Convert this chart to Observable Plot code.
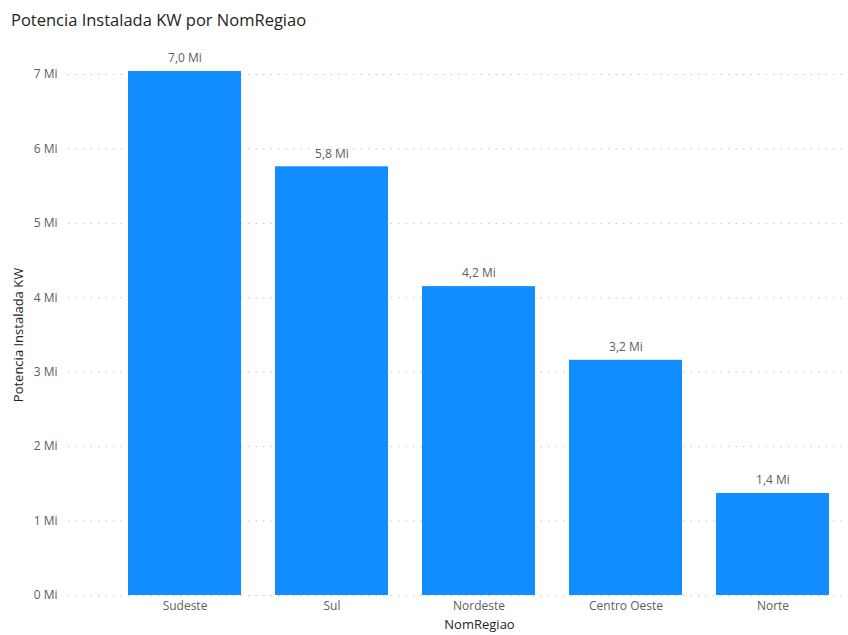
<!DOCTYPE html>
<html><head><meta charset="utf-8">
<script src="https://cdn.jsdelivr.net/npm/d3@7"></script>
<script src="https://cdn.jsdelivr.net/npm/@observablehq/plot@0.6"></script>
<style>
body{margin:0;background:#fff;font-family:"Segoe UI","Open Sans",sans-serif;}
#title{height:40px;line-height:40px;padding-left:11px;font-size:16.5px;color:#252423;white-space:nowrap;}
</style></head>
<body>
<div id="title">Potencia Instalada KW por NomRegiao</div>
<div id="chart"></div>
<script>
const regions = ["Sudeste", "Sul", "Nordeste", "Centro Oeste", "Norte"];
const potencia = [7.04, 5.76, 4.15, 3.16, 1.37]; // millions of kW
const yTicks = [0, 1, 2, 3, 4, 5, 6, 7];

const data = regions.map((r, i) => ({regiao: r, valor: potencia[i]}));
const fmt = v => v.toFixed(1).replace(".", ",") + " Mi";

const chart = Plot.plot({
  width: 848,
  height: 595,
  marginLeft: 111,
  marginRight: 1,
  marginTop: 34,
  marginBottom: 40,
  style: {fontFamily: '"Segoe UI","Open Sans",sans-serif', fontSize: "12px", color: "#605E5C", background: "#fff"},
  x: {domain: regions, paddingInner: 0.23, paddingOuter: 0.115, label: null},
  y: {domain: [0, 7], label: null},
  marks: [
    Plot.ruleY(yTicks, {stroke: "#C8C6C4", strokeDasharray: "1.5,6", insetLeft: -43, strokeWidth: 1}),
    Plot.barY(data, {x: "regiao", y: "valor", fill: "#118DFF"}),
    Plot.text(data, {x: "regiao", y: "valor", text: d => fmt(d.valor), dy: -13, fill: "#605E5C", fontSize: 12}),
    Plot.axisY(yTicks, {tickSize: 0, tickPadding: 54, tickFormat: d => d + " Mi", fill: "#605E5C", fontSize: 12, label: null}),
    Plot.axisX({tickSize: 0, tickPadding: 6, fill: "#605E5C", fontSize: 12, label: null}),
    Plot.text(["NomRegiao"], {frameAnchor: "bottom", dy: 33, fill: "#252423", fontSize: 13}),
    Plot.text(["Potencia Instalada KW"], {frameAnchor: "left", dx: -93, rotate: -90, textAnchor: "middle", fill: "#252423", fontSize: 13})
  ]
});
document.getElementById("chart").appendChild(chart);
</script>
</body></html>
